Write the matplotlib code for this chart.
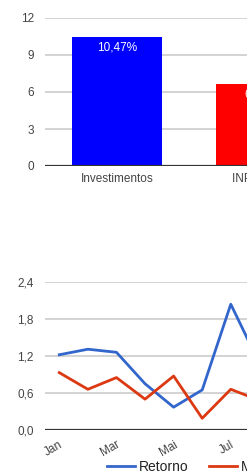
import matplotlib
matplotlib.use('Agg')
import matplotlib.pyplot as plt

plt.rcParams['font.family'] = ['Liberation Sans', 'DejaVu Sans']

# dados do grafico de barras
categorias = ['Investimentos', 'INPC + 6%']
valores = [10.47, 6.65]
cores_barras = ['#0000ff', '#ff0000']

# dados do grafico de linhas
meses = ['Jan', 'Fev', 'Mar', 'Abr', 'Mai', 'Jun', 'Jul', 'Ago', 'Set', 'Out', 'Nov', 'Dez']
retorno = [1.22, 1.31, 1.26, 0.75, 0.37, 0.65, 2.04, 1.08]
meta = [0.93, 0.66, 0.85, 0.50, 0.875, 0.19, 0.66, 0.48]

cinza = '#444444'

fig = plt.figure(figsize=(2.47, 4.72), dpi=100)

# barras
ax1 = fig.add_axes([45 / 247, 1 - 166 / 472, 288 / 247, 148 / 472])
x = range(len(categorias))
ax1.bar(x, valores, width=0.625, color=cores_barras, zorder=3)
for i, v in enumerate(valores):
    ax1.text(i, v - 0.35, ('%.2f' % v).replace('.', ',') + '%', color='white',
             ha='center', va='top', fontsize=8.5, zorder=4)
ax1.set_xlim(-0.5, 1.5)
ax1.set_ylim(0, 12)
ax1.set_yticks([0, 3, 6, 9, 12])
ax1.set_yticklabels(['0', '3', '6', '9', '12'])
ax1.set_xticks(list(x))
ax1.set_xticklabels(categorias)
ax1.grid(axis='y', color='#cccccc', linewidth=1.2, zorder=0)
ax1.axhline(0, color='#333333', linewidth=1.6, zorder=5)
for s in ax1.spines.values():
    s.set_visible(False)
ax1.tick_params(length=0, labelsize=8.5, colors=cinza)
ax1.tick_params(axis='y', pad=8)
ax1.tick_params(axis='x', pad=5)

# linhas
ax2 = fig.add_axes([45 / 247, 1 - 430 / 472, 343 / 247, 148 / 472])
ax2.plot(range(len(retorno)), retorno, color='#3366cc', linewidth=2, label='Retorno', zorder=3)
ax2.plot(range(len(meta)), meta, color='#dc3912', linewidth=2, label='Meta', zorder=3)
ax2.set_xlim(-0.5, 11.5)
ax2.set_ylim(0, 2.4)
ax2.set_yticks([0, 0.6, 1.2, 1.8, 2.4])
ax2.set_yticklabels(['0,0', '0,6', '1,2', '1,8', '2,4'])
ax2.set_xticks(range(0, 12, 2))
ax2.set_xticklabels(meses[::2], rotation=30, ha='right', va='top', rotation_mode='anchor')
ax2.grid(axis='y', color='#cccccc', linewidth=1.2, zorder=0)
ax2.axhline(0, color='#333333', linewidth=1.6, zorder=5)
for s in ax2.spines.values():
    s.set_visible(False)
ax2.tick_params(length=0, labelsize=8.5, colors=cinza)
ax2.tick_params(axis='y', pad=8)
ax2.tick_params(axis='x', pad=6)

leg = ax2.legend(loc='center left', bbox_to_anchor=(62 / 343, -37 / 148), ncol=2, frameon=False,
                 fontsize=10, handlelength=2.0, handletextpad=0.3, columnspacing=1.5,
                 borderaxespad=0, borderpad=0)
for t in leg.get_texts():
    t.set_color('#222222')

fig.savefig('out.png', dpi=100)
